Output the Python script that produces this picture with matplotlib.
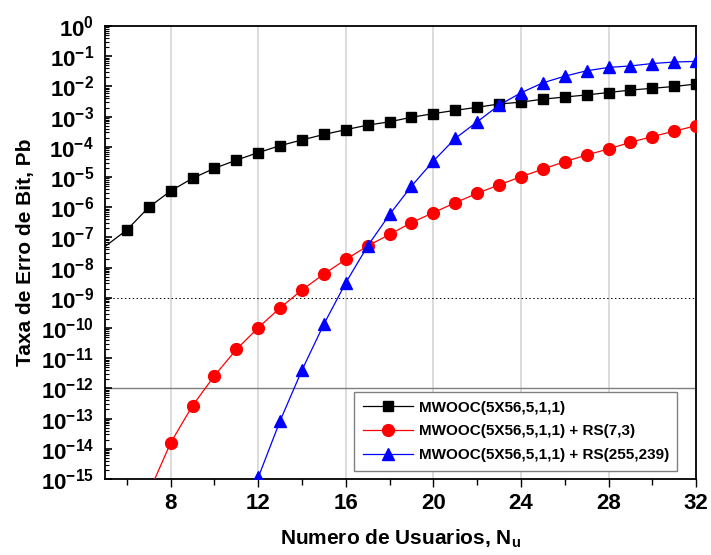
import math
import matplotlib.pyplot as plt
from matplotlib.ticker import FixedLocator, LogLocator, NullFormatter, FuncFormatter

plt.rcParams['font.family'] = ['Liberation Sans', 'DejaVu Sans']
plt.rcParams['mathtext.default'] = 'regular'

# dados (expoentes de 10)
usuarios_mwooc = list(range(5, 33))
log_mwooc = [-7.30, -6.75, -6.00, -5.46, -5.04, -4.71, -4.44, -4.19, -3.96,
             -3.77, -3.59, -3.43, -3.28, -3.17, -3.02, -2.90, -2.79, -2.69,
             -2.58, -2.52, -2.42, -2.35, -2.28, -2.20, -2.12, -2.06, -2.00, -1.92]

usuarios_rs73 = list(range(7, 33))
log_rs73 = [-15.45, -13.80, -12.57, -11.58, -10.71, -9.99, -9.33, -8.74,
            -8.21, -7.73, -7.28, -6.90, -6.51, -6.18, -5.85, -5.54, -5.26,
            -4.99, -4.74, -4.49, -4.27, -4.07, -3.85, -3.66, -3.48, -3.30]

usuarios_rs255 = list(range(12, 33))
log_rs255 = [-14.95, -13.07, -11.39, -9.87, -8.50, -7.28, -6.24, -5.30,
             -4.47, -3.72, -3.17, -2.62, -2.21, -1.88, -1.66, -1.48, -1.37,
             -1.32, -1.24, -1.19, -1.17]

nomes = ["MWOOC(5X56,5,1,1)",
         "MWOOC(5X56,5,1,1) + RS(7,3)",
         "MWOOC(5X56,5,1,1) + RS(255,239)"]

fig = plt.figure(figsize=(7.11, 5.55), dpi=100)
ax = fig.add_axes([0.1477, 0.137, 0.8313, 0.816])

# linhas de grade e referencias
for xv in [8, 12, 16, 20, 24, 28]:
    ax.axvline(xv, color='#d9d9d9', lw=1.3, zorder=0)
ax.axhline(1e-9, color='black', lw=0.7, ls=(0, (1.5, 2.5)), zorder=1)
ax.axhline(1e-12, color='#7f7f7f', lw=1.0, zorder=1)

# o primeiro ponto (x=5) fica na borda, sem marcador
ax.plot(usuarios_mwooc, [10 ** v for v in log_mwooc], color='black', lw=0.9,
        marker='s', ms=7.5, markevery=slice(1, None), label=nomes[0], zorder=3)
ax.plot(usuarios_rs73, [10 ** v for v in log_rs73], color='#ff0000', lw=0.9,
        marker='o', ms=8.5, label=nomes[1], zorder=3)
ax.plot(usuarios_rs255, [10 ** v for v in log_rs255], color='#0000ff', lw=0.9,
        marker='^', ms=9, label=nomes[2], zorder=3)

ax.set_yscale('log')
ax.set_xlim(5, 32)
ax.set_ylim(1e-15, 1)

ax.xaxis.set_major_locator(FixedLocator([8, 12, 16, 20, 24, 28, 32]))
ax.xaxis.set_minor_locator(FixedLocator([6, 10, 14, 18, 22, 26, 30]))
ax.yaxis.set_major_locator(FixedLocator([10.0 ** e for e in range(-15, 1)]))
ax.yaxis.set_minor_locator(LogLocator(base=10, subs=range(2, 10), numticks=40))
ax.yaxis.set_minor_formatter(NullFormatter())
ax.yaxis.set_major_formatter(FuncFormatter(
    lambda v, p: r"$10^{%d}$" % round(math.log10(v))))

ax.tick_params(axis='x', which='major', direction='out', length=6, width=1,
               labelsize=16, pad=4)
ax.tick_params(axis='x', which='minor', direction='out', length=4, width=1)
ax.tick_params(axis='y', which='major', direction='in', length=5, width=1.2,
               labelsize=16, pad=8)
ax.tick_params(axis='y', which='minor', direction='in', length=3, width=0.8)
for lab in ax.get_xticklabels() + ax.get_yticklabels():
    lab.set_fontweight('bold')

for s in ax.spines.values():
    s.set_linewidth(1.3)

ax.set_xlabel(r"Numero de Usuarios, N$_u$", fontsize=15, fontweight='bold',
              labelpad=10)
ax.set_ylabel("Taxa de Erro de Bit, Pb", fontsize=15, fontweight='bold',
              labelpad=4)

leg = ax.legend(loc='lower right', bbox_to_anchor=(0.968, 0.018),
                borderaxespad=0, fancybox=False, handlelength=3.3,
                prop={'size': 11, 'weight': 'bold'}, labelspacing=0.65,
                borderpad=0.55, handletextpad=0.35)
leg.get_frame().set_edgecolor('#808080')
leg.get_frame().set_linewidth(1.0)
leg.get_frame().set_alpha(1)

fig.savefig("out.png", dpi=100)
